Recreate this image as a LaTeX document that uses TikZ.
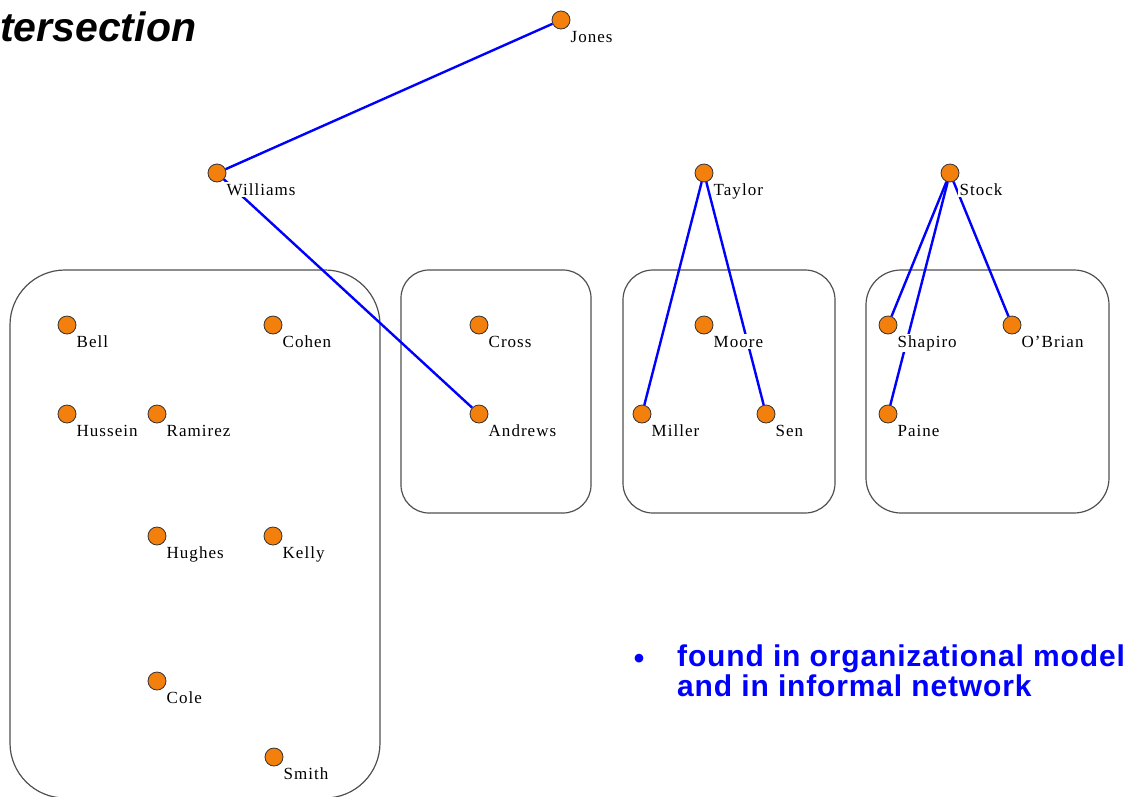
\documentclass[tikz,border=0pt]{standalone}
\usepackage{fontspec}
\setmainfont{Liberation Serif}[LetterSpace=6]
\newfontfamily\headfont{Liberation Sans}
\newfontfamily\notefont{Liberation Sans}[LetterSpace=2.8]
\definecolor{dotorange}{RGB}{243,128,12}
\definecolor{edgeblue}{RGB}{0,0,255}
\definecolor{framegray}{RGB}{80,80,80}
\begin{document}
\begin{tikzpicture}[x=1pt,y=-1pt,
  person/.style={circle, draw=black!80, line width=0.8pt, fill=dotorange,
                 minimum size=18pt, inner sep=0pt},
  lbl/.style={anchor=base west, fill=white, inner sep=1.5pt,
              font=\fontsize{17}{20}\selectfont},
  tie/.style={draw=edgeblue, line width=2.4pt},
  unitbox/.style={draw=framegray, line width=1.2pt}]
\useasboundingbox (0,0) rectangle (1133,796);
\clip (0,0) rectangle (1133,796);

% organisational units
\draw[unitbox, rounded corners=55pt] (10,270) rectangle (380,798);
\draw[unitbox, rounded corners=28pt] (401,270) rectangle (591,513);
\draw[unitbox, rounded corners=30pt] (623,270) rectangle (835,513);
\draw[unitbox, rounded corners=35pt] (866,270) rectangle (1109,513);

% people
\node[person] (jones)    at (561,20)  {};
\node[person] (williams) at (217,173) {};
\node[person] (taylor)   at (704,173) {};
\node[person] (stock)    at (950,173) {};
\node[person] (bell)     at (67,325)  {};
\node[person] (cohen)    at (273,325) {};
\node[person] (cross)    at (479,325) {};
\node[person] (moore)    at (704,325) {};
\node[person] (shapiro)  at (888,325) {};
\node[person] (obrian)   at (1012,325) {};
\node[person] (hussein)  at (67,414)  {};
\node[person] (ramirez)  at (157,414) {};
\node[person] (andrews)  at (479,414) {};
\node[person] (miller)   at (642,414) {};
\node[person] (sen)      at (766,414) {};
\node[person] (paine)    at (888,414) {};
\node[person] (hughes)   at (157,536) {};
\node[person] (kelly)    at (273,536) {};
\node[person] (cole)     at (157,681) {};
\node[person] (smith)    at (274,757) {};

% informal network ties
\draw[tie] (jones) -- (williams);
\draw[tie] (williams) -- (andrews);
\draw[tie] (taylor) -- (miller);
\draw[tie] (taylor) -- (sen);
\draw[tie] (stock) -- (shapiro);
\draw[tie] (stock) -- (paine);
\draw[tie] (stock) -- (obrian);

% names
\foreach \p/\t in {jones/Jones, williams/Williams, taylor/Taylor, stock/Stock,
  bell/Bell, cohen/Cohen, cross/Cross, moore/Moore, shapiro/Shapiro,
  obrian/O'Brian, hussein/Hussein, ramirez/Ramirez, andrews/Andrews,
  miller/Miller, sen/Sen, paine/Paine, hughes/Hughes, kelly/Kelly,
  cole/Cole, smith/Smith}
  \node[lbl] (\p-name) at ([shift={(8,22)}]\p.center) {\t};

% heading
\node[anchor=base west, inner sep=0pt,
      font=\headfont\bfseries\itshape\fontsize{41}{48}\selectfont]
  (title) at (0,41) {tersection};

% note
\node[anchor=base, inner sep=0pt, text=edgeblue,
      font=\headfont\bfseries\fontsize{30}{30}\selectfont]
  (bullet) at (639,668) {•};
\node[anchor=north west, inner sep=0pt, align=left, text=edgeblue,
      font=\notefont\bfseries\fontsize{30}{28}\selectfont]
  (note) at (677,645) {found in organizational model\\and in informal network};
\end{tikzpicture}
\end{document}
